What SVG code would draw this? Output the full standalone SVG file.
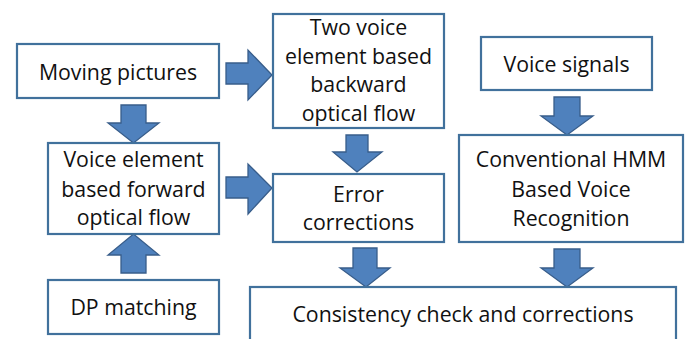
<svg xmlns="http://www.w3.org/2000/svg" width="688" height="339" viewBox="0 0 688 339">
<style>
.box{fill:#fff;stroke:#41719C;stroke-width:2.2}
.arr{fill:#4F81BD;stroke:#385D8A;stroke-width:1.3;stroke-linejoin:miter}
text{font-family:"Open Sans","Liberation Sans",Arial,sans-serif;font-size:21.3px;fill:#111;text-anchor:middle}
</style>
<rect width="688" height="339" fill="#fff"/>
<g id="connectors">
<polygon class="arr" points="121,105 146,105 146,123 159,123 133.5,143 108,123 121,123"/>
<polygon class="arr" points="226,63 248,63 248,50 272,75 248,100 248,84 226,84"/>
<polygon class="arr" points="346,135 368,135 368,152 382,152 357,172 333,152 346,152"/>
<polygon class="arr" points="226,177 248,177 248,164 272,188 248,214 248,198 226,198"/>
<polygon class="arr" points="121,273 146,273 146,255 159,255 133.5,234 108,255 121,255"/>
<polygon class="arr" points="554,97 580,97 580,116 593,116 567,135 541,116 554,116"/>
<polygon class="arr" points="353,248 377,248 377,268 390,268 366,287 340,268 353,268"/>
<polygon class="arr" points="554,249 580,249 580,268 593,268 567,287 541,268 554,268"/>
</g>
<g id="moving-pictures">
<rect class="box" x="17" y="44" width="202" height="54"/>
<text x="118" y="80">Moving pictures</text>
</g>
<g id="backward-flow">
<rect class="box" x="273" y="14" width="171" height="114"/>
<text x="358.5" y="35">Two voice</text>
<text x="358.5" y="64">element based</text>
<text x="358.5" y="92">backward</text>
<text x="358.5" y="121">optical flow</text>
</g>
<g id="voice-signals">
<rect class="box" x="481" y="37" width="171" height="53"/>
<text x="566.5" y="72">Voice signals</text>
</g>
<g id="forward-flow">
<rect class="box" x="48" y="143" width="171" height="91"/>
<text x="133.5" y="167">Voice element</text>
<text x="133.5" y="197">based forward</text>
<text x="133.5" y="225">optical flow</text>
</g>
<g id="error-corrections">
<rect class="box" x="273" y="174" width="171" height="68"/>
<text x="358.5" y="202">Error</text>
<text x="358.5" y="230">corrections</text>
</g>
<g id="hmm">
<rect class="box" x="459" y="135" width="224" height="107"/>
<text x="571" y="167">Conventional HMM</text>
<text x="571" y="197">Based Voice</text>
<text x="571" y="226">Recognition</text>
</g>
<g id="dp-matching">
<rect class="box" x="48" y="280" width="171" height="54"/>
<text x="133.5" y="315">DP matching</text>
</g>
<g id="consistency">
<rect class="box" x="250" y="287" width="426" height="70"/>
<text x="463" y="322">Consistency check and corrections</text>
</g>
</svg>
